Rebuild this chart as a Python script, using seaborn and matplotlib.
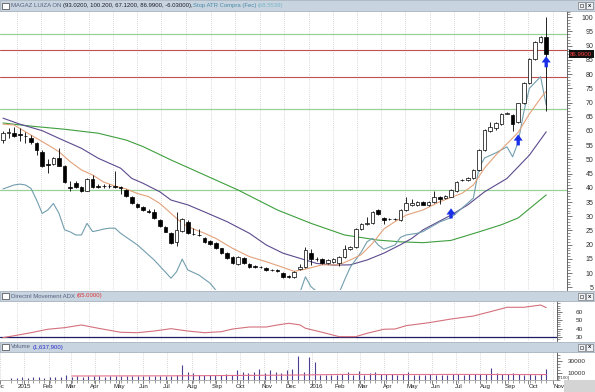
import matplotlib
matplotlib.use("Agg")
import matplotlib.pyplot as plt
from matplotlib.patches import Rectangle
from matplotlib.ticker import MultipleLocator
import seaborn as sns
import pandas as pd

W, H = 595, 392

# weekly candles, MAGAZ LUIZA ON, first week 2014-12-15
first_week = "2014-12-15"
opens = [56.8, 59.4, 59.2, 58.9, 58.3, 57.4, 55.7, 52.7, 48.2, 48.4,
         50.4, 47.7, 40.2, 41.8, 40.2, 39.0, 43.1, 40.5, 40.7, 40.6,
         40.5, 40.4, 39.2, 36.9, 34.3, 33.1, 31.8, 31.6, 28.7, 26.3,
         24.2, 21.0, 24.9, 28.1, 23.8, 23.5, 22.2, 21.3, 20.5, 18.7,
         17.0, 15.6, 13.2, 15.4, 13.1, 12.3, 12.2, 11.7, 11.2, 10.9,
         10.1, 8.8, 8.5, 11.4, 12.0, 17.0, 15.0, 14.9, 13.4, 13.9,
         13.4, 15.6, 18.5, 19.1, 25.4, 27.4, 27.5, 32.2, 29.5, 29.1,
         29.0, 28.7, 32.2, 34.0, 34.0, 35.1, 34.0, 35.1, 36.9, 36.3,
         36.9, 39.0, 42.7, 42.8, 43.3, 46.3, 53.3, 60.0, 61.2, 62.4,
         66.1, 65.6, 63.0, 69.7, 76.8, 85.3, 91.4, 93.02]
highs = [60.1, 61.0, 61.5, 61.0, 59.5, 58.6, 56.2, 53.3, 50.0, 51.0,
         53.9, 48.0, 42.4, 42.3, 40.5, 43.5, 44.5, 41.2, 41.3, 41.2,
         45.9, 40.8, 39.5, 37.2, 34.8, 33.5, 32.4, 32.5, 29.0, 26.7,
         24.6, 31.6, 29.3, 28.6, 26.0, 25.5, 22.6, 21.6, 20.8, 19.0,
         17.3, 15.9, 15.9, 15.7, 13.4, 12.7, 12.6, 12.0, 11.6, 11.3,
         10.4, 9.2, 10.8, 13.2, 19.1, 18.6, 15.5, 15.2, 14.9, 15.2,
         15.9, 19.8, 19.6, 25.8, 27.6, 29.8, 32.0, 32.5, 29.8, 29.4,
         29.3, 32.5, 36.9, 36.0, 35.4, 35.4, 35.4, 38.9, 37.2, 37.5,
         39.5, 42.5, 43.2, 43.9, 46.6, 53.6, 60.6, 63.2, 63.0, 66.3,
         66.6, 65.9, 70.0, 77.1, 85.6, 91.5, 93.5, 100.2]
lows = [55.8, 57.5, 57.8, 56.5, 55.8, 55.5, 51.5, 47.2, 45.2, 48.0,
        47.5, 41.8, 39.0, 39.8, 38.6, 38.8, 39.8, 39.8, 40.0, 40.0,
        39.8, 37.8, 36.8, 34.2, 32.8, 31.8, 31.2, 29.0, 26.3, 24.3,
        20.4, 19.5, 24.5, 23.9, 23.3, 23.0, 20.7, 19.9, 18.4, 16.7,
        14.9, 13.1, 12.9, 13.1, 11.9, 11.8, 11.7, 10.8, 10.7, 10.4,
        8.2, 8.2, 8.2, 11.1, 11.7, 13.0, 14.4, 13.1, 13.1, 13.6,
        12.5, 15.3, 18.2, 18.8, 25.1, 27.0, 27.2, 30.4, 27.3, 28.6,
        28.5, 28.4, 31.9, 33.7, 33.7, 33.8, 33.7, 34.8, 34.2, 36.0,
        36.6, 38.7, 42.4, 42.5, 43.0, 46.0, 53.0, 59.7, 60.5, 62.1,
        65.8, 59.9, 62.7, 69.4, 76.5, 85.0, 91.1, 67.12]
closes = [59.3, 59.7, 58.3, 58.7, 58.1, 56.2, 53.3, 47.7, 48.0, 50.4,
          47.8, 42.2, 40.0, 40.2, 39.0, 43.1, 40.2, 40.3, 40.5, 40.5,
          40.3, 39.8, 37.1, 34.5, 33.4, 32.2, 31.6, 29.3, 26.6, 24.6,
          20.7, 25.2, 28.9, 24.2, 23.6, 23.3, 21.0, 20.2, 18.7, 17.0,
          15.2, 13.4, 15.6, 13.4, 12.2, 12.2, 12.1, 11.1, 11.1, 10.8,
          8.5, 8.7, 10.5, 12.2, 18.1, 14.9, 14.9, 13.4, 14.6, 14.9,
          15.6, 18.5, 19.3, 25.4, 27.3, 27.5, 31.6, 30.7, 28.7, 29.0,
          28.9, 32.2, 34.6, 34.8, 35.1, 34.1, 35.1, 36.9, 36.1, 37.2,
          39.2, 42.2, 42.8, 43.6, 46.3, 53.3, 60.3, 61.5, 62.7, 66.0,
          66.2, 62.4, 69.7, 76.8, 85.3, 91.2, 93.2, 86.99]
# volume in hundreds of shares
volume = [3200, 3000, 3400, 3100, 3300, 3600, 3200, 3500, 3300, 3800,
          6500, 4500, 5000, 4800, 5200, 5500, 5000, 4800, 5300, 5100,
          5600, 5200, 5400, 5000, 5600, 5800, 5400, 6000, 5700, 6200,
          6500, 23600, 12700, 10000, 7500, 6500, 7000, 6500, 7800, 8200,
          7500, 15000, 12700, 10000, 11600, 17000, 10000, 15400, 11600, 10700,
          15400, 17000, 38200, 11600, 37100, 28000, 7000, 6500, 6800, 7000,
          9500, 12700, 7500, 13800, 8000, 10000, 11600, 9500, 9000, 8500,
          8000, 8500, 12700, 8000, 7500, 7800, 8200, 8000, 7500, 7000,
          8500, 9000, 8000, 8500, 9000, 9000, 9500, 19200, 9800, 9500,
          8500, 11000, 8500, 8000, 8500, 8000, 8500, 16379]

# indicator lines, read at sample weeks (week number from first_week)
fast_wk = [0, 2, 4, 6, 8, 10, 12, 14, 16, 18, 20, 22, 24, 26, 28, 30, 32, 34, 36, 38,
           41, 44, 47, 50, 52, 54, 57, 60, 62, 64, 66, 68, 70, 72, 75, 78, 82, 84, 86, 88,
           90, 92, 94, 96, 97]
fast_ma = [62.4, 62.1, 59.7, 57.4, 55.1, 52.7, 49.2, 46.3, 44.5, 42.0, 40.6, 39.6, 38.0, 36.9,
           34.5, 31.0, 27.5, 25.5, 24.0, 22.2, 18.7, 15.8, 14.0, 12.0, 10.6, 11.4, 12.9, 12.9,
           14.6, 16.5, 20.5, 25.5, 28.1, 30.4, 32.2, 35.1, 38.1, 41.0, 47.0, 51.5, 55.5, 59.5,
           66.0, 71.5, 74.0]
mid_wk = [0, 3, 7, 10, 14, 17, 21, 23, 25, 28, 30, 33, 36, 40, 44, 47, 50, 53, 56, 59,
          62, 65, 68, 71, 73, 75, 80, 83, 86, 90, 94, 97]
mid_ma = [64.5, 62.4, 60.1, 57.4, 53.9, 50.4, 46.9, 43.3, 41.6, 38.6, 35.7, 34.0, 31.5, 28.1,
          24.0, 19.9, 17.0, 15.2, 13.4, 12.8, 12.9, 14.6, 17.0, 20.0, 22.2, 25.2, 30.4, 34.0,
          38.6, 43.3, 51.5, 59.7]
slow_wk = [0, 5, 11, 17, 22, 25, 30, 36, 42, 49, 55, 61, 67, 71, 75, 80, 85, 89, 92, 97]
slow_ma = [62.8, 61.7, 60.6, 59.2, 56.8, 54.5, 49.8, 44.5, 39.2, 32.2, 27.5, 23.4, 21.6, 21.0,
           20.7, 21.5, 24.5, 27.0, 29.4, 37.5]
stop_wk = [0, 1, 2, 3, 4, 5, 6, 7, 8, 9, 10, 11, 12, 13, 14, 15, 16, 17, 18, 19, 20, 21,
           24, 27, 30, 31, 32, 33, 35, 37, 38, 40, 47, 53, 54, 55, 57, 60, 61, 62, 64, 65,
           66, 67, 68, 70, 71, 72, 74, 75, 78, 80, 82, 84, 85, 86, 88, 90, 91, 92, 93, 94,
           96, 97]
stop_atr = [39.6, 40.3, 41.0, 41.3, 41.0, 39.8, 35.7, 31.0, 32.2, 34.5, 31.0, 25.2, 24.5, 23.4,
            23.4, 27.5, 24.6, 25.0, 25.5, 25.8, 25.8, 24.0, 19.9, 14.6, 8.2, 10.5, 14.9, 11.1,
            9.3, 6.4, 4.0, 1.0, 1.0, 3.0, 8.7, 5.2, 2.0, 3.0, 7.6, 12.0, 17.5, 21.0, 22.2, 19.9,
            18.4, 19.9, 22.6, 23.4, 24.0, 24.6, 28.0, 29.5, 32.9, 36.4, 47.0, 50.5, 52.3, 54.4,
            50.9, 56.1, 66.7, 75.0, 79.1, 69.1]
green_levels = [94.0, 67.6, 39.4]
red_levels = [88.5, 79.1]
signal_wk = [80, 92, 97]
signal_from = [29.2, 54.9, 82.4]
signal_to = [32.8, 58.8, 86.3]

adx_wk = [0, 2, 5, 8, 11, 14, 17, 21, 24, 27, 30, 33, 36, 39, 41, 44, 47, 49, 51, 53,
          54, 57, 60, 63, 65, 68, 70, 72, 76, 80, 84, 87, 90, 93, 96, 97]
adx = [29.2, 31.5, 35.1, 39.2, 41.1, 44.3, 40.4, 35.6, 35.1, 37.1, 39.9, 37.1, 35.1, 36.3,
       39.5, 41.9, 41.9, 44.3, 46.3, 44.5, 40.4, 35.6, 30.4, 30.4, 34.4, 39.2, 39.5, 43.5,
       47.0, 51.4, 55.0, 60.1, 65.4, 65.4, 68.1, 65.0]
adx_level = 30
volma_wk = [11, 30, 45, 52, 60, 70, 80, 97]
volma = [5700, 6000, 6800, 7300, 8200, 8000, 8200, 8000]

dates = pd.date_range(first_week, periods=len(closes), freq="7D")
months = pd.date_range("2014-12-01", "2016-11-01", freq="MS")
month_names = [str(m.year) if m.month == 1 else m.strftime("%b") for m in months]

sns.set_style("white")
plt.rcParams["font.family"] = ["Liberation Sans", "DejaVu Sans"]


def px_box(x0, y0, x1, y1):
    return [x0 / W, 1 - y1 / H, (x1 - x0) / W, (y1 - y0) / H]


fig = plt.figure(figsize=(W / 100, H / 100), dpi=100)
ax = fig.add_axes(px_box(0, 11, 567, 290))
ax_adx = fig.add_axes(px_box(0, 301, 557, 341))
ax_vol = fig.add_axes(px_box(0, 352, 557, 380))
ax_lab = fig.add_axes(px_box(0, 380, 567, 392))

# 0.8 px per day, first candle 3 px from the left edge
x_left = dates[0] - pd.Timedelta(days=3.75)
for a in (ax, ax_lab):
    a.set_xlim(x_left, x_left + pd.Timedelta(days=567 / 0.8))
for a in (ax_adx, ax_vol):
    a.set_xlim(x_left, x_left + pd.Timedelta(days=557 / 0.8))

for a in (ax, ax_adx, ax_vol):
    for m in months:
        a.axvline(m, color="#b4b4b4", lw=0.5, ls=(0, (1, 2)), zorder=0)
    for s in ("top", "left", "bottom"):
        a.spines[s].set_visible(False)
    a.spines["right"].set_color("#505050")
    a.spines["right"].set_linewidth(0.6)
    a.yaxis.tick_right()
    a.tick_params(axis="x", which="both", bottom=False, labelbottom=False)
    a.set_xlabel("")
    a.set_ylabel("")

# ---- price panel
for v in green_levels:
    ax.axhline(v, color="#98d098", lw=0.9, zorder=1)
for v in red_levels:
    ax.axhline(v, color="#c05050", lw=0.8, zorder=1)

sns.lineplot(x=dates[slow_wk], y=slow_ma, ax=ax, color="#3f9f3f", lw=0.8, zorder=2)
sns.lineplot(x=dates[mid_wk], y=mid_ma, ax=ax, color="#5c4a8e", lw=0.8, zorder=2)
sns.lineplot(x=dates[stop_wk], y=stop_atr, ax=ax, color="#729eae", lw=0.8, zorder=2)
sns.lineplot(x=dates[fast_wk], y=fast_ma, ax=ax, color="#e3a27a", lw=0.8, zorder=2)

ax.vlines(dates, lows, highs, color="black", lw=0.6, zorder=3)
body_lo = [min(o, c) for o, c in zip(opens, closes)]
body_h = [max(abs(c - o), 0.15) for o, c in zip(opens, closes)]
body_col = ["white" if c >= o else "black" for o, c in zip(opens, closes)]
ax.bar(dates, body_h, bottom=body_lo, width=4.6, color=body_col,
       edgecolor="black", linewidth=0.5, zorder=4)

for wk, lo, hi in zip(signal_wk, signal_from, signal_to):
    ax.annotate("", xy=(dates[wk], hi), xytext=(dates[wk], lo),
                arrowprops=dict(facecolor="#1a2fe6", edgecolor="none", width=2.4,
                                headwidth=6.5, headlength=4.5, shrink=0), zorder=5)

ax.set_ylim(4.05, 102.2)
ax.set_yticks(range(5, 101, 5))
ax.yaxis.set_minor_locator(MultipleLocator(1))
ax.tick_params(axis="y", which="major", length=3.6, width=0.5, colors="#404040",
               labelsize=5, pad=15.5)
ax.tick_params(axis="y", which="minor", length=2, width=0.4, colors="#404040")
plt.setp(ax.get_yticklabels(), ha="right", color="#303030")

ax.annotate(f"{closes[-1]:.4f}", xy=(1, closes[-1]), xycoords=("axes fraction", "data"),
            xytext=(2.2, 0), textcoords="offset points", ha="left", va="center",
            fontsize=4.4, color="#ff3b3b", annotation_clip=False,
            bbox=dict(boxstyle="square,pad=0.25", fc="#111111", ec="none"))

# ---- ADX panel
ax_adx.axhline(adx_level, color="#1c1c66", lw=0.9, zorder=1)
sns.lineplot(x=dates[adx_wk], y=adx, ax=ax_adx, color="#d4707c", lw=0.8, zorder=2)
ax_adx.set_ylim(25.2, 72.9)
ax_adx.set_yticks([30, 40, 50, 60])
ax_adx.yaxis.set_minor_locator(MultipleLocator(2.5))
ax_adx.tick_params(axis="y", which="major", length=3.6, width=0.5, colors="#404040",
                   labelsize=4.6, pad=15)
ax_adx.tick_params(axis="y", which="minor", length=2, width=0.4, colors="#404040")
plt.setp(ax_adx.get_yticklabels(), ha="right", color="#303030")

# ---- volume panel
ax_vol.vlines(dates, 0, volume, color="#4b3d8f", lw=0.8, zorder=2)
sns.lineplot(x=dates[volma_wk], y=volma, ax=ax_vol, color="#e3708c", lw=0.8, zorder=3)
ax_vol.set_ylim(-800, 44600)
ax_vol.set_yticks([10000, 30000])
ax_vol.yaxis.set_minor_locator(MultipleLocator(5000))
ax_vol.tick_params(axis="y", which="major", length=3.6, width=0.5, colors="#404040",
                   labelsize=4.6, pad=17)
ax_vol.tick_params(axis="y", which="minor", length=2, width=0.4, colors="#404040")
plt.setp(ax_vol.get_yticklabels(), ha="right", color="#303030")
ax_vol.spines["bottom"].set_visible(True)
ax_vol.spines["bottom"].set_color("#909090")
ax_vol.spines["bottom"].set_linewidth(0.5)
ax_vol.set_xticks(months)
ax_vol.set_xticks(dates, minor=True)
ax_vol.tick_params(axis="x", which="major", bottom=True, length=3, width=0.5, colors="#505050")
ax_vol.tick_params(axis="x", which="minor", bottom=True, length=2, width=0.4, colors="#505050")
fig.text(558 / W, 1 - 378 / H, "[x100]", fontsize=3.2, color="#404040", va="center")

# ---- date labels
ax_lab.set_ylim(0, 1)
ax_lab.axis("off")
for m, name in zip(months, month_names):
    ax_lab.text(m + pd.Timedelta(days=1.5), 0.42, name, fontsize=4.4, ha="left", va="center",
                color="#202020", clip_on=True)
fig.add_artist(Rectangle((564 / W, 0), 31 / W, 12 / H, transform=fig.transFigure,
                         fc="#d4d4d4", ec="none"))

# ---- panel title bars
renderer = fig.canvas.get_renderer()


def title_bar(y0, y1, parts):
    fig.add_artist(Rectangle((0, 1 - y1 / H), 1, (y1 - y0) / H, transform=fig.transFigure,
                             fc="#c8d4e0", ec="#9aa7b5", lw=0.5))
    yc = (y0 + y1) / 2
    fig.add_artist(Rectangle((2 / W, 1 - (yc + 3) / H), 7 / W, 6 / H, transform=fig.transFigure,
                             fc="white", ec="#404040", lw=0.5))
    for xi in (578, 586):
        fig.add_artist(Rectangle((xi / W, 1 - (yc + 3.5) / H), 7 / W, 7 / H,
                                 transform=fig.transFigure, fc="#eef2f6", ec="#606060", lw=0.4))
    fig.add_artist(Rectangle((580 / W, 1 - (yc + 1.5) / H), 3 / W, 3 / H,
                             transform=fig.transFigure, fc="none", ec="#303030", lw=0.4))
    fig.text(589.5 / W, 1 - yc / H, "x", fontsize=4.2, ha="center", va="center",
             color="#202020", fontweight="bold")
    x = 11.0
    for txt, col in parts:
        t = fig.text(x / W, 1 - yc / H, txt, fontsize=4.3, color=col, ha="left", va="center")
        x = t.get_window_extent(renderer).x1 + 1.2


title_bar(0, 11, [("MAGAZ LUIZA ON", "#56607e"),
                  ("(93.0200, 100.200, 67.1200, 86.9900, -6.03000),", "#1a1a2a"),
                  ("Stop ATR Compra (Fec)", "#4a8aa6"),
                  ("(68.5539)", "#7ab6c8")])
title_bar(291, 301, [("Directnl Movement ADX", "#56607e"), ("(65.0000)", "#e03232")])
title_bar(342, 352, [("Volume", "#56607e"), ("(1,637,900)", "#2a2ac8")])

fig.savefig("out.png", dpi=100)
